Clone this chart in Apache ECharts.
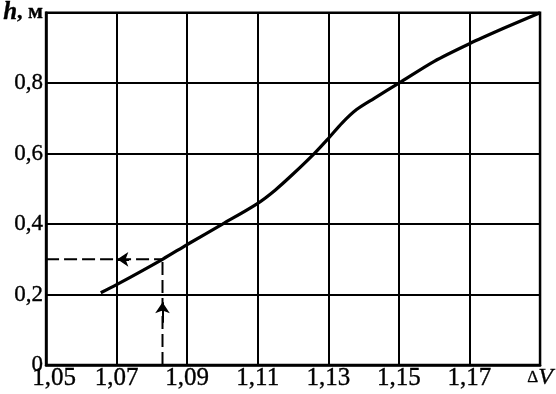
<!DOCTYPE html>
<html>
<head>
<meta charset="utf-8">
<script src="https://cdn.jsdelivr.net/npm/echarts@6/dist/echarts.min.js"></script>
<style>html,body{margin:0;padding:0;background:#fff;}#c{width:556px;height:394px;}</style>
</head>
<body>
<div id="c"></div>
<script>
// Data
var curveDV = [1.0655, 1.07, 1.083, 1.09, 1.10, 1.11, 1.115, 1.12, 1.126, 1.13, 1.134, 1.138, 1.143, 1.15, 1.16, 1.17, 1.18, 1.19];
var curveH  = [0.205, 0.228, 0.300, 0.342, 0.400, 0.459, 0.497, 0.542, 0.600, 0.643, 0.688, 0.725, 0.757, 0.800, 0.862, 0.912, 0.957, 1.0];
var guideDV = 1.083;
var guideH = 0.3;
var arrowHFrom = [1.0735, 0.3];
var arrowHTo = [1.0702, 0.3];
var arrowVFrom = [1.083, 0.12];
var arrowVTo = [1.083, 0.178];
var xMin = 1.05, xMax = 1.19, xStep = 0.02;
var yMin = 0, yMax = 1.0, yStep = 0.2;

var curve = curveDV.map(function (v, i) { return [v, curveH[i]]; });

var serif = 'Liberation Serif';
var bw = 0.35;
var chart = echarts.init(document.getElementById('c'), null, {renderer: 'canvas'});
chart.setOption({
  animation: false,
  backgroundColor: '#fff',
  grid: {left: 43, right: 15, top: 12, bottom: 29, show: true, borderColor: '#000', borderWidth: 2.5, containLabel: false},
  xAxis: {
    type: 'value', min: xMin, max: xMax, interval: xStep,
    axisLine: {show: true, lineStyle: {color: '#000', width: 2.5}},
    axisTick: {show: false},
    splitLine: {show: true, lineStyle: {color: '#000', width: 2}},
    axisLabel: {
      margin: 1, color: '#000', fontFamily: serif, fontSize: 25,
      textBorderColor: '#000', textBorderWidth: bw,
      formatter: function (v) {
        if (Math.abs(v - xMax) < 1e-6) return '{d|Δ}{v|V}';
        var s = v.toFixed(2).replace('.', ',');
        if (Math.abs(v - xMin) < 1e-6) return '{f|' + s + '}';
        return s;
      },
      rich: {
        f: {fontFamily: serif, fontSize: 25, color: '#000', padding: [0, 0, 0, 16], textBorderColor: '#000', textBorderWidth: bw},
        d: {fontFamily: serif, fontSize: 17, color: '#000', textBorderColor: '#000', textBorderWidth: 0.3},
        v: {fontFamily: serif, fontSize: 24, fontStyle: 'italic', color: '#000', textBorderColor: '#000', textBorderWidth: 0.3}
      }
    }
  },
  yAxis: {
    type: 'value', min: yMin, max: yMax, interval: yStep,
    axisLine: {show: true, lineStyle: {color: '#000', width: 2.5}},
    axisTick: {show: false},
    splitLine: {show: true, lineStyle: {color: '#000', width: 2}},
    axisLabel: {
      margin: 3, color: '#000', fontFamily: serif, fontSize: 23,
      textBorderColor: '#000', textBorderWidth: bw,
      formatter: function (v) {
        if (Math.abs(v - yMax) < 1e-6) return '{h|h}{m|, м}';
        if (v === 0) return '0';
        return v.toFixed(1).replace('.', ',');
      },
      rich: {
        h: {fontFamily: serif, fontSize: 25, fontStyle: 'italic', fontWeight: 'bold', color: '#000'},
        m: {fontFamily: serif, fontSize: 22, fontWeight: 'bold', color: '#000'}
      }
    }
  },
  series: [
    {
      type: 'line', data: curve, smooth: 0.3, symbol: 'none',
      lineStyle: {color: '#000', width: 3.2}, z: 5
    },
    {
      type: 'line', data: [[xMin, guideH], [guideDV, guideH]], symbol: 'none',
      lineStyle: {color: '#000', width: 2, type: [13, 5]}, z: 4
    },
    {
      type: 'line', data: [[guideDV, yMin], [guideDV, guideH]], symbol: 'none',
      lineStyle: {color: '#000', width: 2, type: [13, 5]}, z: 4
    },
    {
      type: 'lines', coordinateSystem: 'cartesian2d', z: 6,
      symbol: ['none', 'arrow'], symbolSize: [7, 11],
      lineStyle: {color: '#000', width: 2, opacity: 1},
      data: [
        {coords: [arrowHFrom, arrowHTo]},
        {coords: [arrowVFrom, arrowVTo]}
      ]
    }
  ]
});
</script>
</body>
</html>
